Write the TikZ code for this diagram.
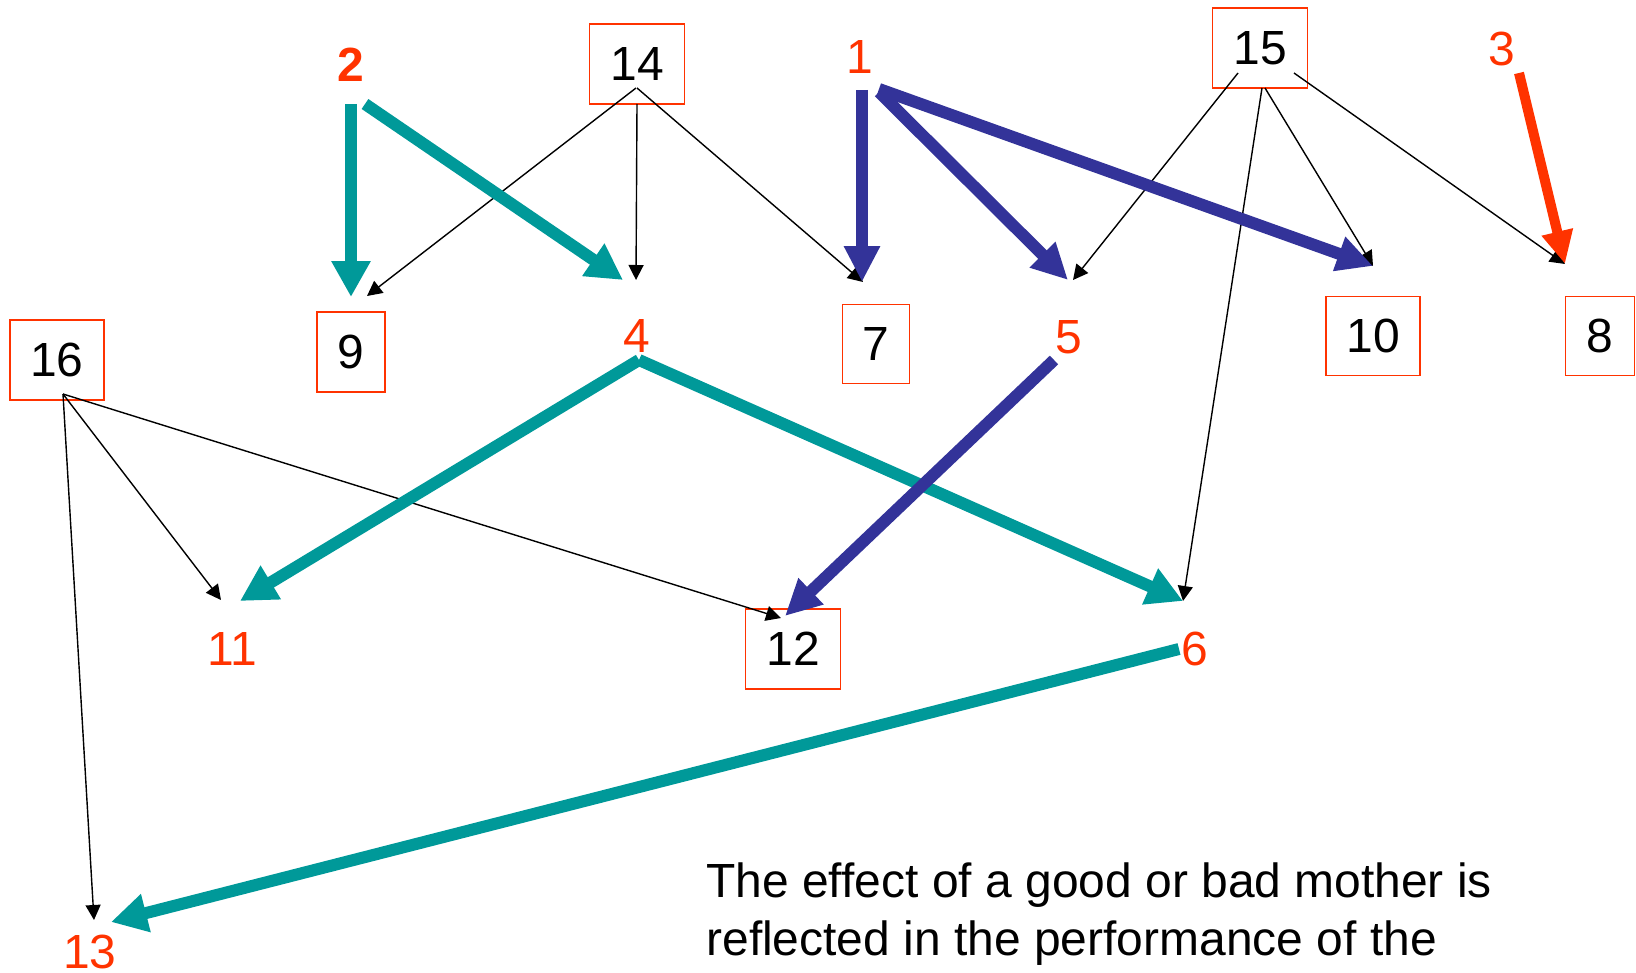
\documentclass[tikz,border=0pt]{standalone}
\usepackage{fontspec}
\setmainfont{Liberation Sans}
\usetikzlibrary{arrows.meta}
\definecolor{tealc}{RGB}{0,153,153}
\definecolor{bluec}{RGB}{51,51,153}
\definecolor{redc}{RGB}{255,51,0}
\begin{document}
\begin{tikzpicture}[x=0.02cm,y=-0.02cm,
  every node/.style={font=\fontsize{27.3}{32}\selectfont, inner sep=0pt},
  boxnode/.style={draw=redc, line width=1.1pt, text=black},
  lbl/.style={text=redc},
  thick teal/.style={draw=tealc, line width=0.24cm, -{Triangle[length=0.72cm,width=0.74cm]}},
  thick blue/.style={draw=bluec, line width=0.24cm, -{Triangle[length=0.72cm,width=0.68cm]}},
  thick red/.style={draw=redc, line width=0.2cm, -{Triangle[length=0.66cm,width=0.6cm]}},
  thin/.style={draw=black, line width=0.8pt, -{Triangle[length=0.3cm,width=0.3cm]}}]
\useasboundingbox (0,0) rectangle (1636,973);
% boxed nodes
\node[boxnode, minimum width=1.90cm, minimum height=1.60cm] (n14) at (637,64) {14};
\node[boxnode, minimum width=1.90cm, minimum height=1.60cm] (n15) at (1260,48) {15};
\node[boxnode, minimum width=1.88cm, minimum height=1.60cm] (n16) at (57,360) {16};
\node[boxnode, minimum width=1.36cm, minimum height=1.60cm] (n9) at (351,352) {9};
\node[boxnode, minimum width=1.34cm, minimum height=1.58cm] (n7) at (876,344) {7};
\node[boxnode, minimum width=1.88cm, minimum height=1.58cm] (n10) at (1373,336) {10};
\node[boxnode, minimum width=1.38cm, minimum height=1.58cm] (n8) at (1600,336) {8};
\node[boxnode, minimum width=1.90cm, minimum height=1.60cm] (n12) at (793,649) {12};
% red labels
\node[lbl, font=\fontsize{27.3}{32}\selectfont\bfseries] (n2) at (351,65) {2};
\node[lbl] (n1) at (860,57) {1};
\node[lbl] (n3) at (1502,49) {3};
\node[lbl] (n4) at (637,336) {4};
\node[lbl] (n5) at (1069,337) {5};
\node[lbl] (n11) at (232,649) {11};
\node[lbl] (n6) at (1195,649) {6};
\node[lbl] (n13) at (90,952) {13};
% caption
\node[anchor=base west] (cap1) at (706,897) {The effect of a good or bad mother is};
\node[anchor=base west] (cap2) at (706,955) {reflected in the performance of the};
% thin arrows
\draw[thin] ([shift={(-1,24)}]n14.center) -- ([shift={(16,-56)}]n9.center);
\draw[thin] ([shift={(0,40)}]n14.center) -- ([shift={(-1,-56)}]n4.center);
\draw[thin] ([shift={(0,24)}]n14.center) -- ([shift={(-13,-62)}]n7.center);
\draw[thin] ([shift={(-22,25)}]n15.center) -- ([shift={(4,-57)}]n5.center);
\draw[thin] ([shift={(2,40)}]n15.center) -- ([shift={(-12,-48)}]n6.center);
\draw[thin] ([shift={(5,40)}]n15.center) -- ([shift={(0,-70)}]n10.center);
\draw[thin] ([shift={(34,25)}]n15.center) -- ([shift={(-35,-72)}]n8.center);
\draw[thin] ([shift={(6,34)}]n16.center) -- ([shift={(-11,-49)}]n11.center);
\draw[thin] ([shift={(6,34)}]n16.center) -- ([shift={(-12,-31)}]n12.center);
\draw[thin] ([shift={(6,34)}]n16.center) -- ([shift={(4,-32)}]n13.center);
% thick arrows
\draw[thick teal] ([shift={(0,39)}]n2.center) -- ([shift={(0,-55)}]n9.center);
\draw[thick teal] ([shift={(14,39)}]n2.center) -- ([shift={(-14,-56)}]n4.center);
\draw[thick teal] ([shift={(2,24)}]n4.center) -- ([shift={(8,-48)}]n11.center);
\draw[thick teal] ([shift={(2,24)}]n4.center) -- ([shift={(-12,-48)}]n6.center);
\draw[thick teal] ([shift={(-16,0)}]n6.center) -- ([shift={(21,-30)}]n13.center);
\draw[thick blue] ([shift={(2,33)}]n1.center) -- ([shift={(-14,-62)}]n7.center);
\draw[thick blue] ([shift={(19,35)}]n1.center) -- ([shift={(-1,-57)}]n5.center);
\draw[thick blue] ([shift={(19,32)}]n1.center) -- ([shift={(0,-70)}]n10.center);
\draw[thick blue] ([shift={(-15,23)}]n5.center) -- ([shift={(-8,-33)}]n12.center);
\draw[thick red] ([shift={(17,24)}]n3.center) -- ([shift={(-35,-72)}]n8.center);
\end{tikzpicture}
\end{document}
